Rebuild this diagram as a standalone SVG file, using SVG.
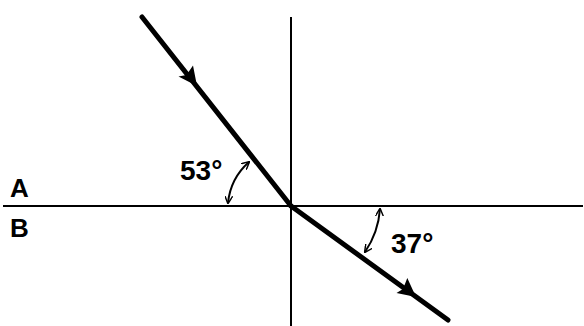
<svg xmlns="http://www.w3.org/2000/svg" width="584" height="326" viewBox="0 0 584 326">
<style>
.axis{stroke:#000;stroke-width:2;fill:none}
.ray{stroke:#000;stroke-width:5;fill:none;stroke-linecap:round}
.arc{stroke:#000;stroke-width:2;fill:none}
.head{fill:#000}
.lbl{font-family:"Liberation Sans",Arial,sans-serif;font-size:28px;font-weight:bold;fill:#000}
.ab{font-family:"Liberation Sans",Arial,sans-serif;font-size:26px;font-weight:bold;fill:#000}
</style>
<defs>
<marker id="ah" viewBox="0 0 10 10" refX="9" refY="5" markerWidth="8" markerHeight="8" orient="auto-start-reverse" markerUnits="userSpaceOnUse">
<path d="M0,0 L10,5 L0,10" fill="none" stroke="#000" stroke-width="1.8"/>
</marker>
</defs>
<g id="axes">
<line class="axis" x1="3" y1="206" x2="583" y2="206"/>
<line class="axis" x1="291" y1="17" x2="291" y2="326"/>
</g>
<g id="connectors">
<line class="ray" x1="142" y1="17" x2="291" y2="206"/>
<polygon class="head" points="197,86 193,65.5 186.5,75 178.5,76.5"/>
<line class="ray" x1="291" y1="206" x2="448" y2="320"/>
<polygon class="head" points="416,297 407.3,278 403,289 396.5,293"/>
<path class="arc" d="M228,203 A63,63 0 0 1 249,162" marker-start="url(#ah)" marker-end="url(#ah)"/>
<path class="arc" d="M380,209 A88,88 0 0 1 365,252" marker-start="url(#ah)" marker-end="url(#ah)"/>
</g>
<g id="labels">
<text class="lbl" x="180" y="180">53°</text>
<text class="lbl" x="391" y="253">37°</text>
<text class="ab" x="10" y="197">A</text>
<text class="ab" x="10" y="237">B</text>
</g>
</svg>
